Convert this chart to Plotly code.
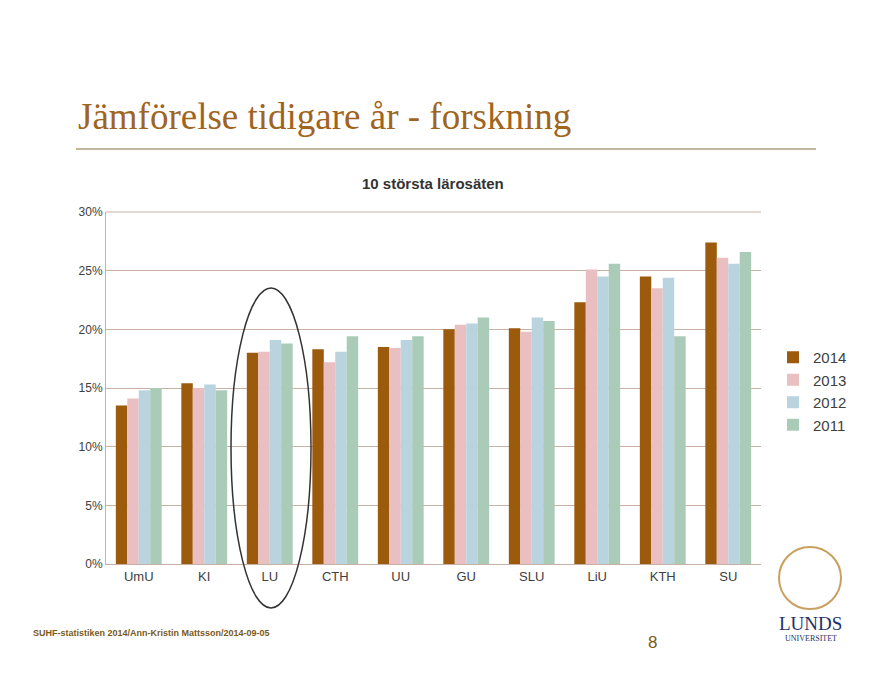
import plotly.graph_objects as go

categories = ["UmU", "KI", "LU", "CTH", "UU", "GU", "SLU", "LiU", "KTH", "SU"]
v2014 = [13.5, 15.4, 18.0, 18.3, 18.5, 20.0, 20.1, 22.3, 24.5, 27.4]
v2013 = [14.1, 15.0, 18.1, 17.2, 18.4, 20.4, 19.8, 25.1, 23.5, 26.1]
v2012 = [14.8, 15.3, 19.1, 18.1, 19.1, 20.5, 21.0, 24.5, 24.4, 25.6]
v2011 = [15.0, 14.8, 18.8, 19.4, 19.4, 21.0, 20.7, 25.6, 19.4, 26.6]
series = [("2014", v2014, "#9c5a0c"), ("2013", v2013, "#e9bfc2"),
          ("2012", v2012, "#b9d3df"), ("2011", v2011, "#a9cbb7")]
yticks = [0, 5, 10, 15, 20, 25, 30]
yticklabels = ["0%", "5%", "10%", "15%", "20%", "25%", "30%"]

fig = go.Figure()
for name, vals, col in series:
    fig.add_trace(go.Bar(x=categories, y=vals, name=name, marker_color=col, marker_line_width=0))

OFF = 7
L, T, W, H = 105 - OFF, 211 - OFF, 655, 352
R, B = 893 - L - W, 673 - T - H
def px(x): return (x - OFF - L) / W
def py(y): return (T + H - (y - OFF)) / H

fig.update_layout(
    width=893, height=673, margin=dict(l=L, r=R, t=T, b=B),
    paper_bgcolor="white", plot_bgcolor="white",
    barmode="group", bargap=0.3, bargroupgap=0,
    font=dict(family="Liberation Sans, Arial", size=13, color="#404040"),
    xaxis=dict(showline=True, linecolor="#c8b0a4", ticks="", tickfont=dict(size=13)),
    yaxis=dict(range=[0, 30], tickvals=yticks, ticktext=yticklabels, gridcolor="#c8b0a4",
               showline=True, linecolor="#c8b0a4", zeroline=False, tickfont=dict(size=12)),
    legend=dict(x=px(772), y=py(340), xanchor="left", yanchor="top",
                font=dict(size=15), traceorder="normal", itemwidth=30, tracegroupgap=6),
    shapes=[
        dict(type="circle", xref="paper", yref="paper", x0=px(230), x1=px(310),
             y0=py(607), y1=py(287), line=dict(color="#333", width=1.5)),
        dict(type="line", xref="paper", yref="paper", x0=px(75), x1=px(815),
             y0=py(148), y1=py(148), line=dict(color="#8a6a3a", width=1.2)),
        dict(type="line", xref="paper", yref="paper", x0=px(105), x1=px(760),
             y0=py(211), y1=py(211), line=dict(color="#c8b0a4", width=1)),
        dict(type="circle", xref="paper", yref="paper", x0=px(778), x1=px(840),
             y0=py(608), y1=py(546), line=dict(color="#c8a060", width=2)),
    ],
    annotations=[
        dict(text="Jämförelse tidigare år - forskning", x=px(75), y=py(115), xref="paper", yref="paper",
             xanchor="left", yanchor="middle", showarrow=False,
             font=dict(family="Liberation Serif, Times New Roman", size=37, color="#a0641e")),
        dict(text="<b>10 största lärosäten</b>", x=px(432), y=py(182), xref="paper", yref="paper",
             xanchor="center", yanchor="middle", showarrow=False, font=dict(size=15, color="#333")),
        dict(text="<b>SUHF-statistiken 2014/Ann-Kristin Mattsson/2014-09-05</b>", x=px(30), y=py(632),
             xref="paper", yref="paper", xanchor="left", yanchor="middle", showarrow=False,
             font=dict(size=9, color="#7a5a1a")),
        dict(text="8", x=px(651), y=py(641), xref="paper", yref="paper", xanchor="center",
             yanchor="middle", showarrow=False, font=dict(size=17, color="#7a5a1a")),
        dict(text="LUNDS", x=px(810), y=py(622), xref="paper", yref="paper", xanchor="center",
             yanchor="middle", showarrow=False,
             font=dict(family="Liberation Serif", size=19, color="#1f2f6a")),
        dict(text="UNIVERSITET", x=px(810), y=py(637), xref="paper", yref="paper", xanchor="center",
             yanchor="middle", showarrow=False,
             font=dict(family="Liberation Serif", size=8, color="#1f2f6a")),
    ],
)
fig.write_html("out.html")
